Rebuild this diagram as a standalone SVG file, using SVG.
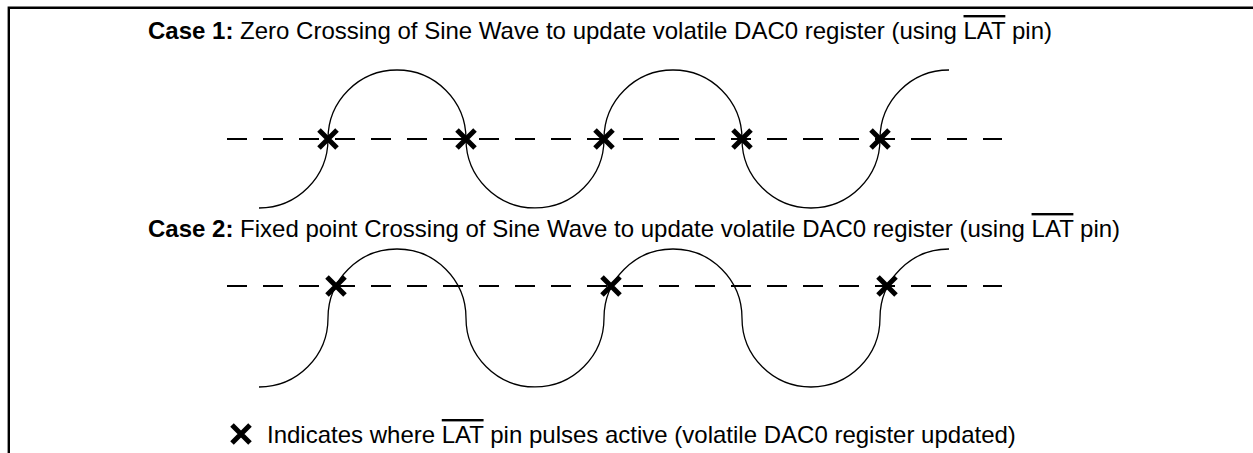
<svg xmlns="http://www.w3.org/2000/svg" width="1253" height="453" viewBox="0 0 1253 453">
<style>
.t{font-family:"Liberation Sans",Arial,sans-serif;font-size:24px;fill:#000}
.b{font-weight:bold}
.o{text-decoration:overline}
.wave{fill:none;stroke:#000;stroke-width:1.3}
.dash{fill:none;stroke:#000;stroke-width:2;stroke-dasharray:20 16}
.frame{fill:none;stroke:#000;stroke-width:2.4}
</style>
<defs>
<g id="xm"><path d="M-9,-9L9,9M9,-9L-9,9" stroke="#000" stroke-width="5" fill="none"/></g>
</defs>
<path class="frame" d="M8.8,453V7.7H1253"/>
<g id="case1">
<text class="t" x="148" y="39"><tspan class="b">Case 1:</tspan> Zero Crossing of Sine Wave to update volatile DAC0 register (using <tspan class="o">LAT</tspan> pin)</text>
<line class="dash" x1="227" y1="139" x2="1002" y2="139"/>
<path class="wave" d="M259,208A69,69 0 0 0 328,139A69,69 0 0 1 466,139A69,69 0 0 0 604,139A69,69 0 0 1 742,139A69,69 0 0 0 880,139A69,69 0 0 1 949,70"/>
<use href="#xm" x="328" y="139"/>
<use href="#xm" x="466" y="139"/>
<use href="#xm" x="604" y="139"/>
<use href="#xm" x="742" y="139"/>
<use href="#xm" x="880" y="139"/>
</g>
<g id="case2">
<text class="t" x="148" y="237"><tspan class="b">Case 2:</tspan> Fixed point Crossing of Sine Wave to update volatile DAC0 register (using <tspan class="o">LAT</tspan> pin)</text>
<line class="dash" x1="227" y1="286" x2="1002" y2="286"/>
<path class="wave" d="M259,387A69,69 0 0 0 328,318A69,69 0 0 1 466,318A69,69 0 0 0 604,318A69,69 0 0 1 742,318A69,69 0 0 0 880,318A69,69 0 0 1 949,249"/>
<use href="#xm" x="336" y="286"/>
<use href="#xm" x="611" y="286"/>
<use href="#xm" x="887" y="286"/>
</g>
<g id="legend">
<use href="#xm" x="241" y="434"/>
<text class="t" x="267" y="443">Indicates where <tspan class="o">LAT</tspan> pin pulses active (volatile DAC0 register updated)</text>
</g>
</svg>
